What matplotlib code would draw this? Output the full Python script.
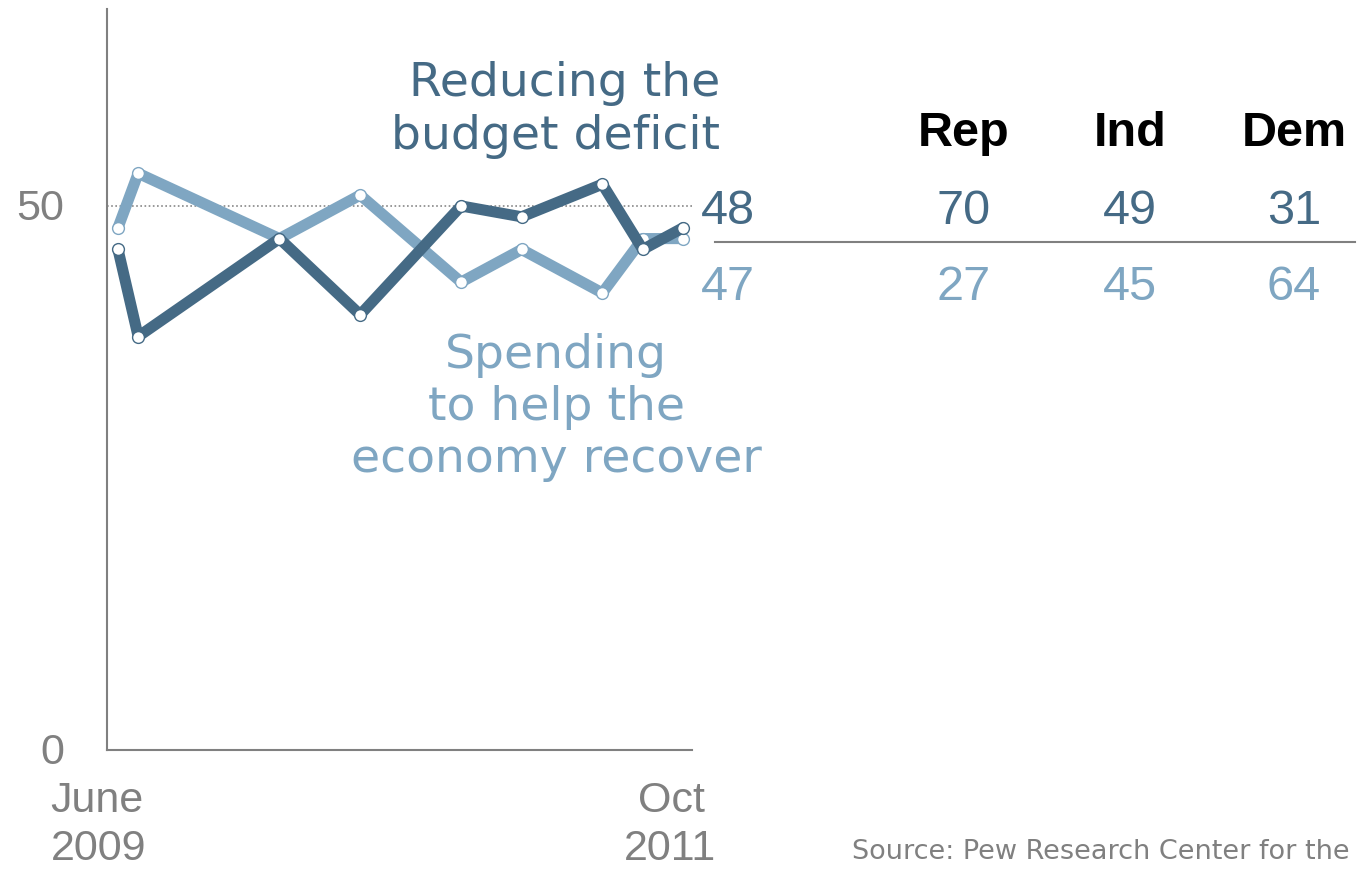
import numpy as np
import matplotlib
matplotlib.use("Agg")
from matplotlib import pyplot as plt

# survey points, months after June 2009
months = [0, 1, 8, 12, 17, 20, 24, 26, 28]
deficit = [46, 38, 47, 40, 50, 49, 52, 46, 48]
spending = [48, 53, 47, 51, 43, 46, 42, 47, 47]

parties = ["Rep", "Ind", "Dem"]
deficit_party = [70, 49, 31]
spending_party = [27, 45, 64]

DARK = "#456a85"
LIGHT = "#7fa6c2"
GRAY = "#808080"
NUM = "Liberation Sans"

fig = plt.figure(figsize=(13.61, 8.70), dpi=100)
ax = fig.add_axes([107 / 1361, 1 - 751 / 870, 585 / 1361, 741 / 870])

ax.set_xlim(-0.545, 28.44)
ax.set_ylim(0, 68.1)

ax.axhline(50, color="#888888", lw=1.2, ls=(0, (1, 1.5)), zorder=1)

ax.plot(months, spending, color=LIGHT, lw=8, solid_joinstyle="round",
        solid_capstyle="round", zorder=2)
ax.plot(months, spending, ls="none", marker="o", ms=8.5, mfc="white",
        mec=LIGHT, mew=1, zorder=3)
ax.plot(months, deficit, color=DARK, lw=8, solid_joinstyle="round",
        solid_capstyle="round", zorder=4)
ax.plot(months, deficit, ls="none", marker="o", ms=8.5, mfc="white",
        mec=DARK, mew=1, zorder=5)

for s in ["top", "right"]:
    ax.spines[s].set_visible(False)
for s in ["left", "bottom"]:
    ax.spines[s].set_color(GRAY)
    ax.spines[s].set_linewidth(1.5)
ax.set_xticks([])
ax.set_yticks([])


def px(x, y):
    return x / 1361, 1 - y / 870


# axis labels drawn as free text
tick_kw = dict(family=NUM, color=GRAY, fontsize=31, ha="center", va="center")
fig.text(*px(40, 209), "50", **tick_kw)
fig.text(*px(52, 753), "0", **tick_kw)
fig.text(*px(97, 801), "June", **tick_kw)
fig.text(*px(99, 849), "2009", **tick_kw)
fig.text(*px(671, 801), "Oct", **tick_kw)
fig.text(*px(670, 849), "2011", **tick_kw)

fig.text(*px(720, 110), "Reducing the\nbudget deficit", color=DARK,
         fontsize=34, ha="right", va="center", linespacing=1.22,
         family="DejaVu Sans")
fig.text(*px(556, 408), "Spending\nto help the\neconomy recover", color=LIGHT,
         fontsize=34, ha="center", va="center", linespacing=1.2,
         family="DejaVu Sans")

# party breakdown table
col_x = [964, 1130, 1294]
for cx, p, d, s in zip(col_x, parties, deficit_party, spending_party):
    fig.text(*px(cx, 133), p, family="Liberation Sans", weight="bold",
             fontsize=35, ha="center", va="center", color="black")
    fig.text(*px(cx, 211), str(d), family=NUM, fontsize=35,
             ha="center", va="center", color=DARK)
    fig.text(*px(cx, 288), str(s), family=NUM, fontsize=35,
             ha="center", va="center", color=LIGHT)
fig.text(*px(728, 211), str(deficit[-1]), family=NUM, fontsize=35,
         ha="center", va="center", color=DARK)
fig.text(*px(728, 288), str(spending[-1]), family=NUM, fontsize=35,
         ha="center", va="center", color=LIGHT)

fig.add_artist(plt.Line2D([715 / 1361, 1355 / 1361], [1 - 243 / 870] * 2,
                          color=GRAY, lw=1.5))

fig.text(*px(1350, 852), "Source: Pew Research Center for the", color=GRAY,
         fontsize=19.5, ha="right", va="center", family="DejaVu Sans")

fig.savefig("out.png", dpi=100)
